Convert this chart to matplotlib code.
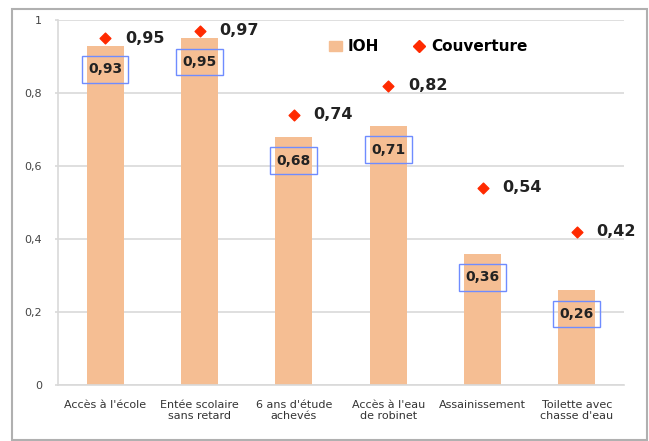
import matplotlib
matplotlib.use("Agg")
import matplotlib.pyplot as plt
from matplotlib.patches import Rectangle
from matplotlib.lines import Line2D

categories = ["Accès à l'école", "Entée scolaire\nsans retard", "6 ans d'étude\nachevés",
              "Accès à l'eau\nde robinet", "Assainissement", "Toilette avec\nchasse d'eau"]
ioh = [0.93, 0.95, 0.68, 0.71, 0.36, 0.26]
couverture = [0.95, 0.97, 0.74, 0.82, 0.54, 0.42]
yticks = [0, 0.2, 0.4, 0.6, 0.8, 1]
ytick_labels = ["0", "0,2", "0,4", "0,6", "0,8", "1"]

def fr(v):
    return f"{v:.2f}".replace(".", ",")

bar_color = "#F5BE93"
red = "#FF2A00"
grid_color = "#D9D9D9"

fig = plt.figure(figsize=(6.49, 4.41), dpi=100)
fig.patches.append(Rectangle((12/649, 1/441), 635/649, 431/441, transform=fig.transFigure,
                             fill=False, edgecolor="#B0B0B0", linewidth=1.5))
ax = fig.add_axes([58/649, 1-385/441, 566/649, 365/441])

x = list(range(len(categories)))
ax.bar(x, ioh, width=0.39, color=bar_color, zorder=2, label="IOH")
ax.scatter(x, couverture, marker="D", s=30, color=red, zorder=3, label="Couverture")

for xi, v in zip(x, ioh):
    ax.text(xi, v - 0.065, fr(v), ha="center", va="center", fontsize=10, fontweight="bold",
            color="#222222", zorder=4,
            bbox=dict(boxstyle="square,pad=0.45", fc="none", ec="#6F8CFF", lw=1.0))
for xi, v in zip(x, couverture):
    ax.text(xi + 0.21, v, fr(v), ha="left", va="center", fontsize=11.5, fontweight="bold",
            color="#222222", zorder=4)

ax.set_xlim(-0.5, 5.5)
ax.set_ylim(0, 1)
ax.set_yticks(yticks)
ax.set_yticklabels(ytick_labels, fontsize=8, color="#444444")
ax.set_xticks(x)
ax.set_xticklabels(categories, fontsize=8, color="#333333", linespacing=1.15)
ax.tick_params(axis="x", length=0, pad=11)
ax.tick_params(axis="y", length=2.5, width=1.2, color=grid_color, pad=9)
ax.grid(axis="y", color=grid_color, linewidth=1.2, zorder=0)
ax.set_axisbelow(True)
for s in ["top", "right"]:
    ax.spines[s].set_visible(False)
for s in ["bottom", "left"]:
    ax.spines[s].set_color(grid_color)
    ax.spines[s].set_linewidth(1.2)

handles = [Rectangle((0, 0), 1, 1, color=bar_color),
           Line2D([], [], marker="D", color=red, linestyle="none", markersize=6)]
leg = ax.legend(handles, ["IOH", "Couverture"], loc="upper left", bbox_to_anchor=(0.455, 0.985),
                ncol=2, frameon=False, prop={"weight": "bold", "size": 11},
                handlelength=0.8, handletextpad=0.4, columnspacing=2.2)

fig.savefig("out.png", dpi=100)
